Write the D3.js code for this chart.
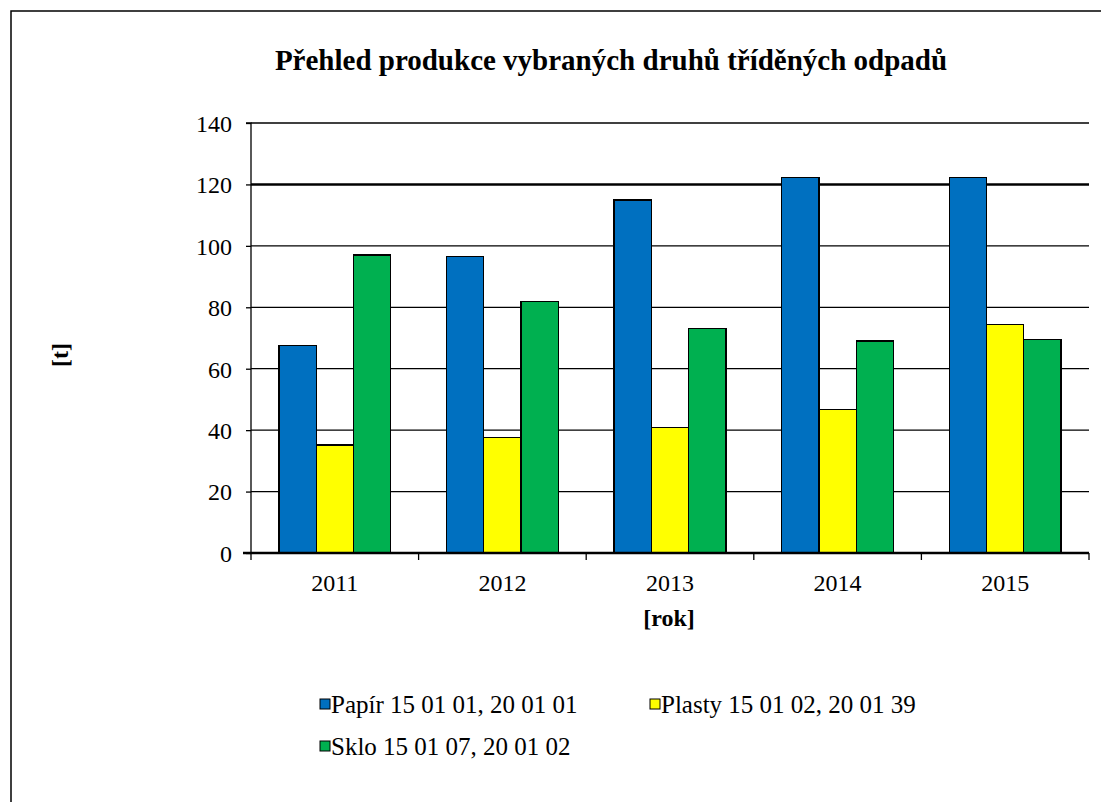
<!DOCTYPE html>
<html>
<head>
<script src="https://d3js.org/d3.v7.min.js"></script>
<style>
	body, html {
		margin: 0;
		padding: 0;
		background: #fff;
	}
	svg text {
		font-family: "Liberation Serif", "DejaVu Serif", "Times New Roman", Times, serif;
		fill: #000;
	}
	.title { font-size: 29px; font-weight: bold; }
	.axis-label { font-size: 24px; }
	.tick text { font-size: 24px; }
	.legend-text { font-size: 25px; }
	.grid line { stroke: #000; stroke-width: 1.3; }
	.bar { stroke: #000; stroke-width: 1.3; shape-rendering: crispEdges; }
</style>
</head>
<body>
<script>
	// data
	var years = ["2011", "2012", "2013", "2014", "2015"];
	var seriesNames = ["Papír 15 01 01, 20 01 01", "Plasty 15 01 02, 20 01 39", "Sklo 15 01 07, 20 01 02"];
	var papir = [67.6, 96.5, 114.9, 122.3, 122.2];
	var plasty = [35.2, 37.7, 40.9, 46.8, 74.5];
	var sklo = [97.0, 81.8, 73.2, 69.0, 69.4];
	var yTicks = [0, 20, 40, 60, 80, 100, 120, 140];
	var colors = ["#0070C0", "#FFFF00", "#00B050"];

	var W = 1101, H = 802;
	var margin = {top: 123, left: 251, right: 12, bottom: 249};
	var width = W - margin.left - margin.right;
	var height = H - margin.top - margin.bottom;

	var svg = d3.select("body").append("svg")
		.attr("width", W)
		.attr("height", H);

	// outer frame (only top and left visible in the picture)
	svg.append("path")
		.attr("d", "M11," + H + "V11H" + W)
		.attr("fill", "none")
		.attr("stroke", "#000")
		.attr("stroke-width", 1.5);

	svg.append("text")
		.attr("class", "title")
		.attr("x", 611)
		.attr("y", 70)
		.attr("text-anchor", "middle")
		.text("Přehled produkce vybraných druhů tříděných odpadů");

	var chart = svg.append("g")
		.attr("transform", "translate(" + margin.left + "," + margin.top + ")");

	var x = d3.scaleBand().domain(years).range([0, width]).paddingInner(0).paddingOuter(0);
	var x1 = d3.scaleBand().domain(seriesNames).range([0, x.bandwidth()]).paddingOuter(0.75).paddingInner(0);
	var y = d3.scaleLinear().domain([0, 140]).range([height, 0]);

	// gridlines
	chart.append("g").attr("class", "grid")
		.selectAll("line")
		.data(yTicks.slice(1))
		.enter().append("line")
		.attr("x1", 0).attr("x2", width)
		.attr("y1", function(d){ return y(d); })
		.attr("y2", function(d){ return y(d); })
		.style("stroke-width", function(d){ return d === 120 ? 2.6 : 1.3; });

	var rows = years.map(function(yr, i){
		return {year: yr, values: [papir[i], plasty[i], sklo[i]]};
	});

	var groups = chart.selectAll(".group")
		.data(rows).enter()
		.append("g")
		.attr("transform", function(d){ return "translate(" + x(d.year) + ",0)"; });

	groups.selectAll("rect")
		.data(function(d){ return d.values.map(function(v, k){ return {name: seriesNames[k], value: v, k: k}; }); })
		.enter().append("rect")
		.attr("class", "bar")
		.attr("x", function(d){ return x1(d.name); })
		.attr("width", x1.bandwidth())
		.attr("y", function(d){ return y(d.value); })
		.attr("height", function(d){ return height - y(d.value); })
		.attr("fill", function(d){ return colors[d.k]; });

	// y axis
	var yAxis = chart.append("g")
		.call(d3.axisLeft(y).tickValues(yTicks).tickSize(5).tickPadding(14));
	yAxis.attr("font-family", null).attr("font-size", null);
	yAxis.selectAll("line, path").attr("stroke", "#000").attr("stroke-width", 1.3);
	yAxis.select(".domain").attr("d", "M-5," + y(140) + "H0V" + height);
	yAxis.selectAll(".tick text").attr("dy", "0.35em");

	// x axis
	var xAxis = chart.append("g")
		.attr("transform", "translate(0," + height + ")")
		.call(d3.axisBottom(x).tickSize(0).tickPadding(21));
	xAxis.attr("font-family", null).attr("font-size", null);
	xAxis.select(".domain").attr("stroke", "#000").attr("stroke-width", 2.5)
		.attr("d", "M-8,0H" + width);
	xAxis.selectAll(".tick text").attr("dy", "0.71em");
	xAxis.selectAll(".edge")
		.data(years.concat(["end"]))
		.enter().append("line")
		.attr("stroke", "#000").attr("stroke-width", 1.3)
		.attr("x1", function(d, i){ return i * x.step(); })
		.attr("x2", function(d, i){ return i * x.step(); })
		.attr("y1", 0).attr("y2", 7);

	// axis titles
	svg.append("text")
		.attr("class", "axis-label")
		.attr("transform", "translate(68,355) rotate(-90)")
		.attr("text-anchor", "middle")
		.style("font-weight", "bold")
		.text("[t]");

	svg.append("text")
		.attr("class", "axis-label")
		.attr("x", 669)
		.attr("y", 626)
		.attr("text-anchor", "middle")
		.style("font-weight", "bold")
		.text("[rok]");

	// legend
	var legendPos = [[320, 704], [650, 704], [320, 746]];
	var legend = svg.selectAll(".legend")
		.data(seriesNames).enter()
		.append("g")
		.attr("transform", function(d, i){ return "translate(" + legendPos[i][0] + "," + legendPos[i][1] + ")"; });
	legend.append("rect")
		.attr("x", 0).attr("y", -5).attr("width", 10).attr("height", 10)
		.attr("fill", function(d, i){ return colors[i]; })
		.attr("stroke", "#000").attr("stroke-width", 1);
	legend.append("text")
		.attr("class", "legend-text")
		.attr("x", 11)
		.attr("y", 9)
		.text(function(d){ return d; });
</script>
</body>
</html>
